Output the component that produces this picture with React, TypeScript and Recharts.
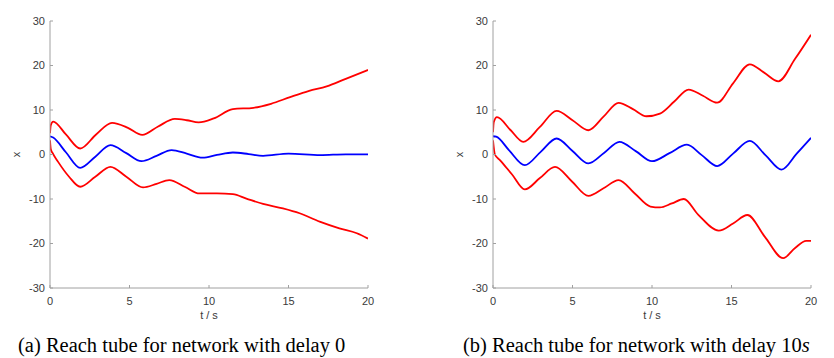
import React from 'react';
import { LineChart, Line, XAxis, YAxis, Label } from 'recharts';

// panel (a): delay 0
const tUpperA = [0, 0.05, 0.2, 1.0, 1.9, 2.9, 3.9, 4.9, 5.8, 6.8, 7.85, 8.6, 9.35, 10.3, 11.5, 12.8, 13.9, 15.1, 16.3, 17.4, 18.6, 20];
const xUpperA = [4.8, 6.6, 7.4, 4.5, 1.35, 4.5, 7.1, 6.0, 4.4, 6.3, 8.0, 7.7, 7.2, 8.1, 10.2, 10.5, 11.4, 12.9, 14.3, 15.3, 17.0, 19.0];
const tLowerA = [0, 0.05, 0.15, 0.5, 1.2, 1.9, 2.85, 3.8, 4.8, 5.85, 6.7, 7.5, 8.5, 9.4, 10.5, 11.5, 12.35, 13.4, 14.65, 15.7, 16.96, 18.2, 19.3, 20];
const xLowerA = [3.2, 1.2, 0.4, -1.6, -5.0, -7.25, -5.0, -2.8, -5.0, -7.4, -6.6, -5.75, -7.3, -8.75, -8.75, -8.9, -9.9, -11.1, -12.1, -13.2, -15.1, -16.6, -17.7, -18.9];
const tMidA = [0, 0.2, 1.0, 1.9, 2.85, 3.8, 4.8, 5.75, 6.7, 7.65, 8.6, 9.6, 10.5, 11.5, 12.5, 13.4, 15, 17, 18.6, 20];
const xMidA = [4.1, 3.8, 0.5, -3.0, -0.5, 2.1, 0.3, -1.5, -0.3, 1.0, 0.2, -0.7, -0.1, 0.45, 0.1, -0.3, 0.2, -0.15, 0.05, 0.05];

// panel (b): delay 10s
const tUpperB = [0, 0.05, 0.25, 1.1, 1.9, 2.95, 4.0, 5.0, 6.0, 6.95, 7.9, 8.8, 9.65, 10.5, 11.4, 12.3, 13.2, 14.1, 15.1, 16.15, 17.05, 17.95, 19.0, 20];
const xUpperB = [5.0, 7.3, 8.4, 5.5, 2.85, 6.2, 9.8, 7.7, 5.45, 8.5, 11.6, 10.2, 8.6, 9.2, 11.9, 14.6, 13.2, 11.65, 16.0, 20.25, 18.4, 16.45, 21.5, 26.9];
const tLowerB = [0, 0.12, 0.45, 1.2, 2.0, 2.95, 3.9, 4.95, 6.0, 6.95, 7.9, 8.9, 9.9, 10.5, 11.25, 12.0, 12.9, 14.2, 15.1, 16.0, 17.1, 18.25, 19.0, 19.7, 20];
const xLowerB = [3.2, 0, -1.3, -4.5, -7.85, -5.3, -2.8, -6.0, -9.3, -7.6, -5.75, -8.7, -11.7, -11.9, -11.0, -10.0, -13.5, -17.1, -15.5, -13.6, -18.5, -23.3, -21.0, -19.4, -19.4];
const tMidB = [0, 0.2, 1.0, 2.0, 3.0, 4.0, 5.0, 6.0, 7.0, 7.95, 9.0, 10.0, 11.1, 12.2, 13.15, 14.1, 15.1, 16.15, 17.15, 18.15, 19.1, 20];
const xMidB = [4.1, 4.0, 1.0, -2.4, 0.6, 3.6, 0.8, -2.0, 0.4, 2.85, 0.7, -1.5, 0.3, 2.2, -0.2, -2.6, 0.2, 3.05, -0.2, -3.4, 0.2, 3.75];

const xTicks = [0, 5, 10, 15, 20];
const yTicks = [-30, -20, -10, 0, 10, 20, 30];

const zip = (t: number[], x: number[]) => t.map((v, i) => ({ t: v, x: x[i] }));

const axisColor = '#a0a0a0';
const tickFont = { fontSize: 11, fill: '#3a3a3a', fontFamily: '"Liberation Sans", Arial, sans-serif' };

interface PanelProps {
    left: number;
    width: number;
    plotRight: number;
    upper: { t: number; x: number }[];
    lower: { t: number; x: number }[];
    mid: { t: number; x: number }[];
}

const Panel: React.FC<PanelProps> = ({ left, width, plotRight, upper, lower, mid }) => (
    <div style={{ position: 'absolute', left, top: 0 }}>
        <LineChart width={width} height={330} margin={{ top: 21, right: left + width - plotRight, left: 20, bottom: 12 }}>
            <XAxis
                type="number"
                dataKey="t"
                domain={[0, 20]}
                ticks={xTicks}
                allowDataOverflow
                height={30}
                axisLine={{ stroke: axisColor }}
                tickLine={{ stroke: axisColor }}
                tickSize={-3}
                tickMargin={12}
                tick={tickFont}
            >
                <Label
                    content={({ viewBox }: any) => (
                        <text x={viewBox.x + viewBox.width / 2} y={319} textAnchor="middle" {...tickFont}>t / s</text>
                    )}
                />
            </XAxis>
            <YAxis
                type="number"
                dataKey="x"
                domain={[-30, 30]}
                ticks={yTicks}
                allowDataOverflow
                width={30}
                axisLine={{ stroke: axisColor }}
                tickLine={{ stroke: axisColor }}
                tickSize={-3}
                tickMargin={8}
                tick={tickFont}
            >
                <Label
                    content={({ viewBox }: any) => {
                        const cy = viewBox.y + viewBox.height / 2;
                        return (
                            <text x={16} y={cy} textAnchor="middle" dominantBaseline="central" transform={`rotate(-90, 16, ${cy})`} {...tickFont}>x</text>
                        );
                    }}
                />
            </YAxis>
            <Line data={upper} dataKey="x" type="monotone" stroke="#ff0000" strokeWidth={1.8} dot={false} isAnimationActive={false} />
            <Line data={lower} dataKey="x" type="monotone" stroke="#ff0000" strokeWidth={1.8} dot={false} isAnimationActive={false} />
            <Line data={mid} dataKey="x" type="monotone" stroke="#0000ff" strokeWidth={1.8} dot={false} isAnimationActive={false} />
        </LineChart>
    </div>
);

const captionStyle: React.CSSProperties = {
    position: 'absolute',
    top: 335,
    fontFamily: '"Liberation Serif", "Times New Roman", serif',
    fontSize: 20.5,
    lineHeight: '21px',
    color: '#000',
    whiteSpace: 'nowrap',
};

export default function App() {
    return (
        <div style={{ position: 'absolute', left: 0, top: 0, width: 834, height: 358, background: '#fff', overflow: 'hidden' }}>
            <Panel left={0} width={400} plotRight={368} upper={zip(tUpperA, xUpperA)} lower={zip(tLowerA, xLowerA)} mid={zip(tMidA, xMidA)} />
            <Panel left={443} width={391} plotRight={811} upper={zip(tUpperB, xUpperB)} lower={zip(tLowerB, xLowerB)} mid={zip(tMidB, xMidB)} />
            <div style={{ ...captionStyle, left: 18 }}>(a) Reach tube for network with delay 0</div>
            <div style={{ ...captionStyle, left: 463 }}>(b) Reach tube for network with delay 10<i>s</i></div>
        </div>
    );
}
